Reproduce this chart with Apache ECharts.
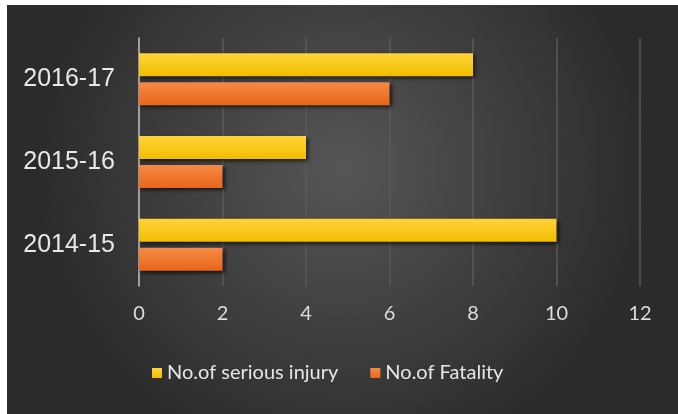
<!DOCTYPE html>
<html><head><meta charset="utf-8">
<script src="https://cdn.jsdelivr.net/npm/echarts@6/dist/echarts.min.js"></script>
<style>
html,body{margin:0;padding:0;background:#fff;width:678px;height:414px;overflow:hidden}
#c{position:absolute;left:7px;top:5px;width:671px;height:409px}
</style></head><body>
<div id="c"></div>
<script>
const categories = ['2014-15', '2015-16', '2016-17'];
const seriousInjury = [10, 4, 8];
const fatality = [2, 2, 6];
const seriesNames = ['No.of serious injury', 'No.of Fatality'];
const xTicks = { min: 0, max: 12, interval: 2 };

const chart = echarts.init(document.getElementById('c'), null, { renderer: 'canvas' });
const shadow = { shadowColor: 'rgba(0,0,0,0.7)', shadowBlur: 4, shadowOffsetX: 2, shadowOffsetY: 2 };
chart.setOption({
  backgroundColor: {
    type: 'radial', x: 0.5, y: 0.4, r: 0.75,
    colorStops: [{ offset: 0, color: '#565656' }, { offset: 1, color: '#2b2b2b' }]
  },
  animation: false,
  grid: { left: 132, right: 38, top: 33, bottom: 128 },
  legend: {
    left: 145, top: 358, padding: 0,
    itemWidth: 10, itemHeight: 10, itemGap: 32,
    icon: 'rect',
    data: seriesNames,
    textStyle: { color: '#e6e6e6', fontSize: 20, fontFamily: 'Lato' }
  },
  xAxis: {
    type: 'value', min: xTicks.min, max: xTicks.max, interval: xTicks.interval,
    axisLine: { show: false }, axisTick: { show: false },
    axisLabel: { color: '#dcdcdc', fontSize: 20, fontFamily: 'Lato', margin: 18 },
    splitLine: { lineStyle: { color: '#5a5a5a', width: 1.5 } }
  },
  yAxis: {
    type: 'category', data: categories,
    axisLine: { show: true, lineStyle: { color: '#bdbdbd', width: 1.5 } },
    axisTick: { show: false },
    axisLabel: { color: '#e8e8e8', fontSize: 25, fontFamily: 'Liberation Sans', margin: 24 }
  },
  series: [
    {
      name: seriesNames[0], type: 'bar', data: seriousInjury,
      barGap: '26%', barCategoryGap: '37%',
      itemStyle: Object.assign({
        color: { type: 'linear', x: 0, y: 0, x2: 0, y2: 1,
          colorStops: [{ offset: 0, color: '#ffd43a' }, { offset: 1, color: '#f2bd00' }] }
      }, shadow)
    },
    {
      name: seriesNames[1], type: 'bar', data: fatality,
      barGap: '26%', barCategoryGap: '37%',
      itemStyle: Object.assign({
        color: { type: 'linear', x: 0, y: 0, x2: 0, y2: 1,
          colorStops: [{ offset: 0, color: '#f58a45' }, { offset: 1, color: '#e8661a' }] }
      }, shadow)
    }
  ]
});
</script>
</body></html>
